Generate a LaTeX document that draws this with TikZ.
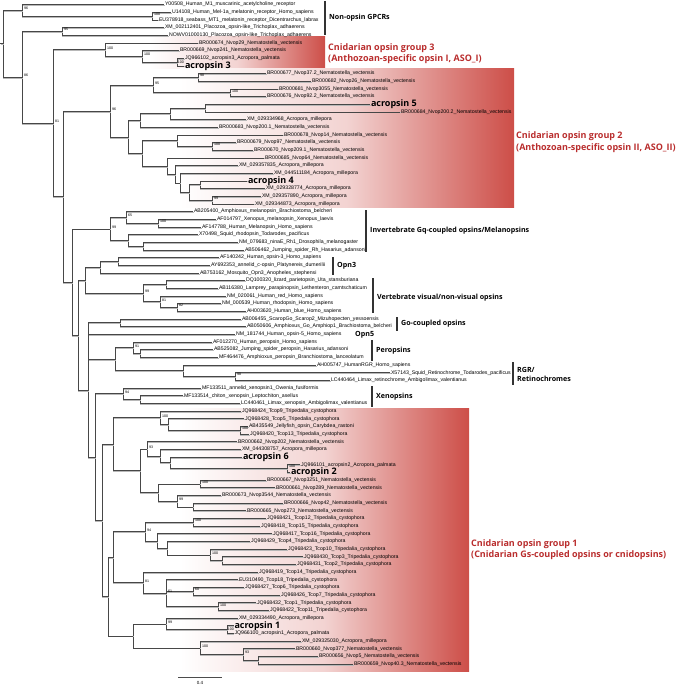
\documentclass[tikz,border=0pt]{standalone}
\usepackage{fontspec}
\setmainfont{Liberation Sans}
\newfontfamily\osans{Open Sans}
\usetikzlibrary{calc}
\definecolor{gred}{RGB}{205,78,72}
\definecolor{tred}{RGB}{185,45,45}
\tikzset{
 x=1pt, y=-1pt,
 br/.style={draw=black!72, line width=0.65pt, preaction={draw=black!28, line width=0.65pt, transform canvas={shift={(0.5pt,-0.9pt)}}}},
 lbl/.style={anchor=west, inner sep=0.8pt, font=\fontsize{5.2}{6}\selectfont},
 big/.style={anchor=west, inner sep=0.8pt, font=\osans\bfseries\fontsize{9}{10}\selectfont},
 bsl/.style={anchor=west, inner sep=0pt, font=\fontsize{3.6}{4}\selectfont},
 grp/.style={anchor=west, inner sep=0pt, align=left, font=\osans\bfseries\fontsize{9}{11.5}\selectfont, text=tred},
 cat/.style={anchor=west, inner sep=0pt, align=left, font=\osans\bfseries\fontsize{7.1}{9}\selectfont},
 cbar/.style={draw=black!80, line width=1.3pt},
 gbox/.style={left color=white, right color=gred, middle color=gred!25!white},
}
\newcommand\LF[4]{\coordinate (#1) at (#3,{4.5+(#2-1)*7.67}); \node[lbl] (#1t) at (#1) {#4};}
\newcommand\LB[4]{\coordinate (#1) at (#3,{4.5+(#2-1)*7.67}); \node[big] (#1t) at (#1) {#4};}
\newcommand\ND[4]{\path let \p1=(#3), \p2=(#4) in coordinate (#1) at (#2pt,{0.5*\y1+0.5*\y2});}
\newcommand\KIDS[2]{\foreach \c in {#2}{\draw[br] (#1) |- (\c);}}
\newcommand\BS[2]{\node[bsl] at ([shift={(1.8pt,1.8pt)}]#1) {#2};}
\newcommand\BK[2]{\node[bsl] at ([shift={(0.6pt,0pt)}]#1) {#2};}
\begin{document}
\begin{tikzpicture}
\useasboundingbox (0,0) rectangle (678,685);
% group boxes
\shade[gbox] (150,37) rectangle (325,68.5);
\shade[gbox] (180,68.5) rectangle (514,207.5);
\shade[gbox] (180,408) rectangle (469,671);
% leaves
\LF{L1}{1}{164}{Y00508\_Human\_M1\_muscarinic\_acetylcholine\_receptor}
\LF{L2}{2}{171}{U14108\_Human\_Mel-1a\_melatonin\_receptor\_Homo\_sapiens}
\LF{L3}{3}{158}{EU378918\_seabass\_MT1\_melatonin\_receptor\_Dicentrarchus\_labrax}
\LF{L4}{4}{164}{XM\_002112401\_Placozoa\_opsin-like\_Trichoplax\_adhaerens}
\LF{L5}{5}{168}{NOWV01000130\_Placozoa\_opsin-like\_Trichoplax\_adhaerens}
\LF{L6}{6}{198}{BR000674\_Nvop29\_Nematostella\_vectensis}
\LF{L7}{7}{179}{BR000669\_Nvop241\_Nematostella\_vectensis}
\LF{L8}{8}{184}{JQ966102\_acropsin3\_Acropora\_palmata}
\LB{L9}{9}{184}{acropsin 3}
\LF{L10}{10}{266}{BR000677\_Nvop37.2\_Nematostella\_vectensis}
\LF{L11}{11}{311}{BR000682\_Nvop26\_Nematostella\_vectensis}
\LF{L12}{12}{278}{BR000681\_Nvop3055\_Nematostella\_vectensis}
\LF{L13}{13}{266}{BR000676\_Nvop92.2\_Nematostella\_vectensis}
\LB{L14}{14}{370}{acropsin 5}
\LF{L15}{15}{400}{BR000684\_Nvop200.2\_Nematostella\_vectensis}
\LF{L16}{16}{246}{XM\_029334968\_Acropora\_millepora}
\LF{L17}{17}{218}{BR000683\_Nvop200.1\_Nematostella\_vectensis}
\LF{L18}{18}{283}{BR000678\_Nvop14\_Nematostella\_vectensis}
\LF{L19}{19}{236}{BR000679\_Nvop97\_Nematostella\_vectensis}
\LF{L20}{20}{253}{BR000670\_Nvop209.1\_Nematostella\_vectensis}
\LF{L21}{21}{264}{BR000685\_Nvop64\_Nematostella\_vectensis}
\LF{L22}{22}{238}{XM\_029357835\_Acropora\_millepora}
\LF{L23}{23}{273}{XM\_044511184\_Acropora\_millepora}
\LB{L24}{24}{247}{acropsin 4}
\LF{L25}{25}{265}{XM\_029328774\_Acropora\_millepora}
\LF{L26}{26}{261}{XM\_029357890\_Acropora\_millepora}
\LF{L27}{27}{254}{XM\_029344873\_Acropora\_millepora}
\LF{L28}{28}{193}{AB205400\_Amphioxus\_melanopsin\_Brachiostoma\_belcheri}
\LF{L29}{29}{216}{AF014797\_Xenopus\_melanopsin\_Xenopus\_laevis}
\LF{L30}{30}{201}{AF147788\_Human\_Melanopsin\_Homo\_sapiens}
\LF{L31}{31}{198}{X70498\_Squid\_rhodopsin\_Todarodes\_pacificus}
\LF{L32}{32}{238}{NM\_079683\_ninaE\_Rh1\_Drosophila\_melanogaster}
\LF{L33}{33}{244}{AB506462\_Jumping\_spider\_Rh\_Hasarius\_adansoni}
\LF{L34}{34}{219}{AF140242\_Human\_opsin-3\_Homo\_sapiens}
\LF{L35}{35}{210}{AY692353\_annelid\_c-opsin\_Platynereis\_dumerilii}
\LF{L36}{36}{199}{AB753162\_Mosquito\_Opn3\_Anopheles\_stephensi}
\LF{L37}{37}{245}{DQ100320\_lizard\_parietopsin\_Uta\_stansburiana}
\LF{L38}{38}{218}{AB116380\_Lamprey\_parapinopsin\_Lethenteron\_camtschaticum}
\LF{L39}{39}{226}{NM\_020061\_Human\_red\_Homo\_sapiens}
\LF{L40}{40}{221}{NM\_000539\_Human\_rhodopsin\_Homo\_sapiens}
\LF{L41}{41}{246}{AH003620\_Human\_blue\_Homo\_sapiens}
\LF{L42}{42}{241}{AB006455\_ScaropGo\_Scarop2\_Mizuhopecten\_yessoensis}
\LF{L43}{43}{246}{AB050606\_Amphioxus\_Go\_Amphiop1\_Brachiostoma\_belcheri}
\LF{L44}{44}{235}{NM\_181744\_Human\_opsin-5\_Homo\_sapiens}
\LF{L45}{45}{212}{AF012270\_Human\_peropsin\_Homo\_sapiens}
\LF{L46}{46}{213}{AB525082\_Jumping\_spider\_peropsin\_Hasarius\_adansoni}
\LF{L47}{47}{218}{MF464476\_Amphioxus\_peropsin\_Branchiostoma\_lanceolatum}
\LF{L48}{48}{316}{AH005747\_HumanRGR\_Homo\_sapiens}
\LF{L49}{49}{390}{X57143\_Squid\_Retinochrome\_Todarodes\_pacificus}
\LF{L50}{50}{330}{LC440464\_Limax\_retinochrome\_Ambigolimax\_valentianus}
\LF{L51}{51}{201}{MF133511\_annelid\_xenopsin1\_Owenia\_fusiformis}
\LF{L52}{52}{183}{MF133514\_chiton\_xenopsin\_Leptochiton\_asellus}
\LF{L53}{53}{240}{LC440461\_Limax\_xenopsin\_Ambigolimax\_valentianus}
\LF{L54}{54}{241}{JQ968424\_Tcop9\_Tripedalia\_cystophora}
\LF{L55}{55}{244}{JQ968428\_Tcop5\_Tripedalia\_cystophora}
\LF{L56}{56}{248}{AB435549\_Jellyfish\_opsin\_Carybdea\_rastoni}
\LF{L57}{57}{249}{JQ968420\_Tcop13\_Tripedalia\_cystophora}
\LF{L58}{58}{237}{BR000662\_Nvop202\_Nematostella\_vectensis}
\LF{L59}{59}{241}{XM\_044308757\_Acropora\_millepora}
\LB{L60}{60}{242}{acropsin 6}
\LF{L61}{61}{300}{JQ966101\_acropsin2\_Acropora\_palmata}
\LB{L62}{62}{290}{acropsin 2}
\LF{L63}{63}{266}{BR000667\_Nvop3251\_Nematostella\_vectensis}
\LF{L64}{64}{275}{BR000661\_Nvop289\_Nematostella\_vectensis}
\LF{L65}{65}{221}{BR000673\_Nvop3544\_Nematostella\_vectensis}
\LF{L66}{66}{283}{BR000666\_Nvop42\_Nematostella\_vectensis}
\LF{L67}{67}{246}{BR000665\_Nvop273\_Nematostella\_vectensis}
\LF{L68}{68}{266}{JQ968421\_Tcop12\_Tripedalia\_cystophora}
\LF{L69}{69}{260}{JQ968418\_Tcop15\_Tripedalia\_cystophora}
\LF{L70}{70}{272}{JQ968417\_Tcop16\_Tripedalia\_cystophora}
\LF{L71}{71}{250}{JQ968429\_Tcop4\_Tripedalia\_cystophora}
\LF{L72}{72}{287}{JQ968423\_Tcop10\_Tripedalia\_cystophora}
\LF{L73}{73}{303}{JQ968430\_Tcop3\_Tripedalia\_cystophora}
\LF{L74}{74}{296}{JQ968431\_Tcop2\_Tripedalia\_cystophora}
\LF{L75}{75}{258}{JQ968419\_Tcop14\_Tripedalia\_cystophora}
\LF{L76}{76}{238}{EU310490\_Tcop18\_Tripedalia\_cystophora}
\LF{L77}{77}{244}{JQ968427\_Tcop6\_Tripedalia\_cystophora}
\LF{L78}{78}{280}{JQ968426\_Tcop7\_Tripedalia\_cystophora}
\LF{L79}{79}{256}{JQ968432\_Tcop1\_Tripedalia\_cystophora}
\LF{L80}{80}{269}{JQ968422\_Tcop11\_Tripedalia\_cystophora}
\LF{L81}{81}{238}{XM\_029334490\_Acropora\_millepora}
\LB{L82}{82}{233.5}{acropsin 1}
\LF{L83}{83}{233.5}{JQ966100\_acropsin1\_Acropora\_palmata}
\LF{L84}{84}{301}{XM\_029325030\_Acropora\_millepora}
\LF{L85}{85}{295}{BR000660\_Nvop377\_Nematostella\_vectensis}
\LF{L86}{86}{318}{BR000656\_Nvop5\_Nematostella\_vectensis}
\LF{L87}{87}{353}{BR000659\_Nvop40.3\_Nematostella\_vectensis}
% ---- non-opsin GPCRs
\ND{B}{152}{L2}{L3} \KIDS{B}{L2,L3} \BS{B}{100}
\ND{A}{22}{L1}{B} \KIDS{A}{L1,B} \BS{A}{96}
\ND{P}{62}{L4}{L5} \KIDS{P}{L4,L5} \BS{P}{95}
% ---- group 3
\ND{GIIIc}{177}{L8}{L9} \KIDS{GIIIc}{L8,L9} \BK{GIIIc}{100}
\ND{GIIIb}{142}{L7}{GIIIc} \KIDS{GIIIb}{L7,GIIIc} \BS{GIIIb}{100}
\ND{GIIIa}{105}{L6}{GIIIb} \KIDS{GIIIa}{L6,GIIIb} \BS{GIIIa}{100}
% ---- group 2
\ND{Ka}{198}{L10}{L11} \KIDS{Ka}{L10,L11} \BS{Ka}{98}
\ND{Kb}{230}{L12}{L13} \KIDS{Kb}{L12,L13} \BS{Kb}{100}
\ND{Kc}{153}{Ka}{Kb} \KIDS{Kc}{Ka,Kb} \BS{Kc}{95}
\ND{Kd}{205}{L14}{L15} \KIDS{Kd}{L14,L15}
\ND{Ke}{170}{Kd}{L16} \KIDS{Ke}{Kd,L16}
\ND{Kf}{140}{Ke}{L17} \KIDS{Kf}{Ke,L17}
\ND{Kg}{212}{L19}{L20} \KIDS{Kg}{L19,L20} \BS{Kg}{100}
\ND{Kh}{177}{L18}{Kg} \KIDS{Kh}{L18,Kg}
\ND{Ki}{212}{L26}{L27} \KIDS{Ki}{L26,L27} \BS{Ki}{99}
\ND{Kj}{200}{L24}{L25} \KIDS{Kj}{L24,L25}
\ND{Kk}{189}{Kj}{Ki} \KIDS{Kk}{Kj,Ki}
\ND{Kl}{180}{L23}{Kk} \KIDS{Kl}{L23,Kk}
\ND{Km}{175}{L22}{Kl} \KIDS{Km}{L22,Kl}
\ND{Kn}{167}{L21}{Km} \KIDS{Kn}{L21,Km}
\ND{Ko}{142}{Kh}{Kn} \KIDS{Ko}{Kh,Kn}
\ND{Kp}{128}{Kf}{Ko} \KIDS{Kp}{Kf,Ko}
\ND{GII}{110}{Kc}{Kp} \KIDS{GII}{Kc,Kp} \BS{GII}{96}
% ---- Gq
\ND{Qa}{158}{L29}{L30} \KIDS{Qa}{L29,L30} \BS{Qa}{100}
\ND{Qb}{126}{L28}{Qa} \KIDS{Qb}{L28,Qa} \BS{Qb}{65}
\ND{Qc}{143}{L32}{L33} \KIDS{Qc}{L32,L33}
\ND{Qd}{128}{L31}{Qc} \KIDS{Qd}{L31,Qc}
\ND{Gq}{110}{Qb}{Qd} \KIDS{Gq}{Qb,Qd} \BS{Gq}{99}
% ---- Opn3 + vertebrate
\ND{Oa}{118}{L34}{L35} \KIDS{Oa}{L34,L35}
\ND{Opn}{100}{Oa}{L36} \KIDS{Opn}{Oa,L36}
\ND{Va}{166}{L37}{L38} \KIDS{Va}{L37,L38}
\ND{Vb}{177}{L40}{L41} \KIDS{Vb}{L40,L41} \BS{Vb}{82}
\ND{Vc}{160}{L39}{Vb} \KIDS{Vc}{L39,Vb} \BS{Vc}{81}
\ND{Vert}{143}{Va}{Vc} \KIDS{Vert}{Va,Vc} \BS{Vert}{99}
\ND{OV}{85}{Opn}{Vert} \KIDS{OV}{Opn,Vert}
% ---- Go, peropsins, RGR, xenopsins
\ND{Go}{120}{L42}{L43} \KIDS{Go}{L42,L43}
\ND{Pa}{140}{L46}{L47} \KIDS{Pa}{L46,L47}
\ND{Per}{133}{L45}{Pa} \KIDS{Per}{L45,Pa} \BS{Per}{91}
\ND{Ra}{235}{L49}{L50} \KIDS{Ra}{L49,L50} \BS{Ra}{98}
\ND{RGR}{183}{L48}{Ra} \KIDS{RGR}{L48,Ra}
\ND{PR}{115}{Per}{RGR} \KIDS{PR}{Per,RGR}
\ND{Xa}{140}{L52}{L53} \KIDS{Xa}{L52,L53}
\ND{Xen}{123}{L51}{Xa} \KIDS{Xen}{L51,Xa} \BS{Xen}{94}
% ---- group 1
\ND{Ia}{240}{L56}{L57} \KIDS{Ia}{L56,L57} \BS{Ia}{100}
\ND{Ib}{168}{L55}{Ia} \KIDS{Ib}{L55,Ia}
\ND{Ic}{160}{L54}{Ib} \KIDS{Ic}{L54,Ib} \BS{Ic}{100}
\ND{Id}{287}{L61}{L62} \KIDS{Id}{L61,L62} \BS{Id}{100}
\ND{Ie}{170}{L60}{Id} \KIDS{Ie}{L60,Id}
\ND{If}{160}{L59}{Ie} \KIDS{If}{L59,Ie}
\ND{Ig}{147}{L58}{If} \KIDS{Ig}{L58,If} \BS{Ig}{93}
\ND{Ih}{200}{L63}{L64} \KIDS{Ih}{L63,L64} \BS{Ih}{100}
\ND{Ii}{193}{L66}{L67} \KIDS{Ii}{L66,L67}
\ND{Ij}{177}{L65}{Ii} \KIDS{Ij}{L65,Ii} \BS{Ij}{99}
\ND{Ik}{158}{Ih}{Ij} \KIDS{Ik}{Ih,Ij}
\ND{Il}{140}{Ig}{Ik} \KIDS{Il}{Ig,Ik}
\ND{Im}{113}{Ic}{Il} \KIDS{Im}{Ic,Il}
\ND{In}{193}{L68}{L69} \KIDS{In}{L68,L69} \BS{In}{100}
\ND{Io}{222}{L73}{L74} \KIDS{Io}{L73,L74}
\ND{Ip}{210}{L72}{Io} \KIDS{Ip}{L72,Io} \BS{Ip}{100}
\ND{Iq}{167}{L71}{Ip} \KIDS{Iq}{L71,Ip}
\ND{Ir}{157}{L70}{Iq} \KIDS{Ir}{L70,Iq}
\ND{Is}{145}{In}{Ir} \KIDS{Is}{In,Ir} \BS{Is}{94}
\ND{It}{193}{L77}{L78} \KIDS{It}{L77,L78} \BS{It}{60}
\ND{Iu}{218}{L79}{L80} \KIDS{Iu}{L79,L80} \BS{Iu}{100}
\ND{Iv}{166}{L76}{Iu} \KIDS{Iv}{L76,It,Iu} \BS{Iv}{61}
\ND{Iw}{143}{L75}{Iv} \KIDS{Iw}{L75,Iv} \BS{Iw}{81}
\ND{Ix}{113}{Is}{Iw} \KIDS{Ix}{Is,Iw}
\ND{Iy}{227}{L82}{L83} \KIDS{Iy}{L82,L83} \BK{Iy}{100}
\ND{Iz}{166}{L81}{Iy} \KIDS{Iz}{L81,Iy} \BS{Iz}{99}
\ND{Ja}{258}{L86}{L87} \KIDS{Ja}{L86,L87}
\ND{Jb}{243}{L85}{Ja} \KIDS{Jb}{L85,Ja} \BS{Jb}{93}
\ND{Jc}{200}{L84}{Jb} \KIDS{Jc}{L84,Jb} \BS{Jc}{100}
\ND{Jd}{133}{Iz}{Jc} \KIDS{Jd}{Iz,Jc}
\ND{Je}{108}{Ix}{Jd} \KIDS{Je}{Ix,Jd}
\ND{GI}{102}{Im}{Je} \KIDS{GI}{Im,Je}
% ---- backbone
\ND{Ba}{95}{Xen}{GI} \KIDS{Ba}{Xen,GI}
\ND{Bb}{88}{Go}{Ba} \KIDS{Bb}{Go,L44,PR,Ba}
\ND{Bc}{78}{OV}{Bb} \KIDS{Bc}{OV,Bb}
\ND{Bd}{72}{Gq}{Bc} \KIDS{Bd}{Gq,Bc}
\ND{Be}{63}{GII}{Bd} \KIDS{Be}{GII,Bd}
\ND{Bf}{53}{GIIIa}{Be} \KIDS{Bf}{GIIIa,Be} \BS{Bf}{81}
\ND{Bg}{22}{P}{Bf} \KIDS{Bg}{P,Bf} \BS{Bg}{86}
\ND{R}{3}{A}{Bg} \KIDS{R}{A,Bg}
\path let \p1=(R) in coordinate (R0) at (0pt,\y1);
\draw[br] (R0) -- (R);
% ---- clade labels
\node[grp] (t3) at (328,53.5) {Cnidarian opsin group 3\\(Anthozoan-specific opsin I, ASO\_I)};
\node[grp] (t2) at (516,142.3) {Cnidarian opsin group 2\\(Anthozoan-specific opsin II, ASO\_II)};
\node[grp] (t1) at (471,549.5) {Cnidarian opsin group 1\\(Cnidarian Gs-coupled opsins or cnidopsins)};
\coordinate (c1a) at (325,1); \coordinate (c1b) at (325,35);
\draw[cbar] (c1a) -- (c1b); \node[cat] (k1) at (329,18) {Non-opsin GPCRs};
\coordinate (c2a) at (366,210); \coordinate (c2b) at (366,252);
\draw[cbar] (c2a) -- (c2b); \node[cat] (k2) at (370,230.5) {Invertebrate Gq-coupled opsins/Melanopsins};
\coordinate (c3a) at (333,257); \coordinate (c3b) at (333,275);
\draw[cbar] (c3a) -- (c3b); \node[cat] (k3) at (337,265.5) {Opn3};
\coordinate (c4a) at (373,278); \coordinate (c4b) at (373,313);
\draw[cbar] (c4a) -- (c4b); \node[cat] (k4) at (377,298) {Vertebrate visual/non-visual opsins};
\coordinate (c5a) at (397,317); \coordinate (c5b) at (397,331);
\draw[cbar] (c5a) -- (c5b); \node[cat] (k5) at (401,324) {Go-coupled opsins};
\node[cat] (k6) at (355,334.5) {Opn5};
\coordinate (c7a) at (372,340); \coordinate (c7b) at (372,361);
\draw[cbar] (c7a) -- (c7b); \node[cat] (k7) at (376,351) {Peropsins};
\coordinate (c8a) at (513,362); \coordinate (c8b) at (513,385);
\draw[cbar] (c8a) -- (c8b); \node[cat] (k8) at (517,374) {RGR/\\Retinochromes};
\coordinate (c9a) at (372,386); \coordinate (c9b) at (372,407);
\draw[cbar] (c9a) -- (c9b); \node[cat] (k9) at (376,397) {Xenopsins};
% ---- scale bar
\coordinate (s1) at (178,677); \coordinate (s2) at (222,677);
\draw[black!70, line width=0.7pt] (s1) -- (s2);
\node[font=\fontsize{4.5}{5}\selectfont, inner sep=0pt] (sl) at (200,683) {0.4};
\end{tikzpicture}
\end{document}
